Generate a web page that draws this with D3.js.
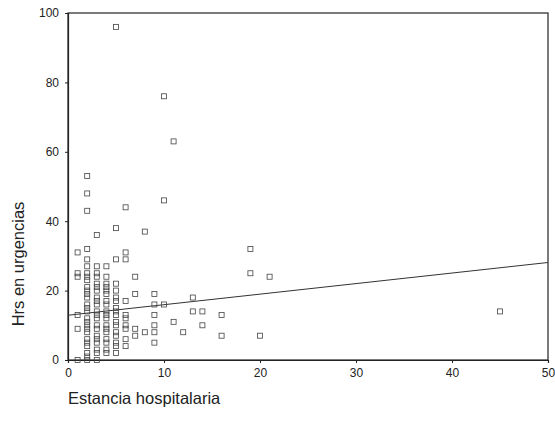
<!DOCTYPE html>
<meta charset="utf-8">
<script src="https://d3js.org/d3.v7.min.js"></script>
<style>
  body { margin: 0; background: #fff; }
  text { font-family: "Liberation Sans", Arial, sans-serif; fill: #222; }
</style>
<div id="chart"></div>
<script>

// data: stay (days) vs hours in ER
var estancia = [
  1, 1, 1, 1, 1, 1,
  2, 2, 2, 2, 2, 2, 2, 2, 2, 2, 2, 2, 2, 2, 2, 2, 2, 2, 2, 2, 2, 2, 2, 2, 2, 2, 2,
  3, 3, 3, 3, 3, 3, 3, 3, 3, 3, 3, 3, 3, 3, 3, 3, 3, 3, 3, 3, 3,
  4, 4, 4, 4, 4, 4, 4, 4, 4, 4, 4, 4, 4, 4, 4, 4, 4, 4,
  5, 5, 5, 5, 5, 5, 5, 5, 5, 5, 5, 5, 5, 5, 5, 5, 5,
  6, 6, 6, 6, 6, 6, 6, 6, 6, 6,
  7, 7, 7, 7,
  8, 8,
  9, 9, 9, 9, 9, 9,
  10, 10, 10,
  11, 11,
  12, 13, 13, 14, 14, 16, 16, 19, 19, 20, 21, 45
];
var horas = [
  0, 9, 13, 24, 25, 31,
  0, 1, 2, 4, 5, 6, 8, 9, 10, 11, 12, 14, 15, 16, 18, 19, 20, 21, 23, 24, 25, 27, 29, 32, 43, 48, 53,
  0, 2, 3, 5, 6, 7, 9, 10, 12, 13, 14, 16, 17, 18, 20, 21, 22, 24, 25, 27, 36,
  2, 3, 5, 6, 8, 9, 10, 12, 13, 14, 16, 17, 19, 20, 21, 22, 24, 27,
  2, 4, 5, 7, 8, 10, 11, 13, 14, 15, 17, 18, 20, 22, 29, 38, 96,
  4, 6, 9, 10, 12, 13, 17, 29, 31, 44,
  7, 9, 19, 24,
  8, 37,
  5, 8, 10, 13, 16, 19,
  16, 46, 76,
  11, 63,
  8, 14, 18, 10, 14, 7, 13, 25, 32, 7, 24, 14
];
// fitted line: hours = a + b * stay
var ajuste = { a: 12.9, b: 0.304 };

var xTicks = [0, 10, 20, 30, 40, 50];
var yTicks = [0, 20, 40, 60, 80, 100];

var margin = { top: 13, right: 7, bottom: 68, left: 68 },
    width = 555 - margin.left - margin.right,
    height = 428 - margin.top - margin.bottom;

var svg = d3.select("#chart")
    .append("svg")
    .attr("width", 555)
    .attr("height", 428)
    .append("g")
    .attr("transform", "translate(" + margin.left + "," + margin.top + ")");

var x = d3.scaleLinear().domain([0, 50]).range([0, width]);
var y = d3.scaleLinear().domain([0, 100]).range([height, 0]);

// frame
svg.append("rect")
    .attr("width", width)
    .attr("height", height)
    .attr("fill", "none")
    .attr("stroke", "#222")
    .attr("stroke-width", 1.2);

var xAxis = svg.append("g")
    .attr("transform", "translate(0," + height + ")")
    .call(d3.axisBottom(x).tickValues(xTicks).tickSize(3).tickPadding(5));
var yAxis = svg.append("g")
    .call(d3.axisLeft(y).tickValues(yTicks).tickSize(3).tickPadding(6));

[xAxis, yAxis].forEach(function (g) {
    g.select(".domain").attr("stroke", "#222").attr("stroke-width", 1.2);
    g.selectAll(".tick line").attr("stroke", "#222");
    g.selectAll(".tick text")
        .style("font-size", "12px")
        .style("font-family", "'Liberation Sans', Arial, sans-serif")
        .attr("fill", "#333");
});

// regression line
svg.append("line")
    .attr("x1", x(0))
    .attr("y1", y(ajuste.a))
    .attr("x2", x(50))
    .attr("y2", y(ajuste.a + ajuste.b * 50))
    .attr("stroke", "#333")
    .attr("stroke-width", 1);

// points
var s = 5;
svg.selectAll(".pt")
    .data(estancia)
    .enter()
    .append("rect")
    .attr("class", "pt")
    .attr("x", function (d) { return x(d) - s / 2; })
    .attr("y", function (d, i) { return y(horas[i]) - s / 2; })
    .attr("width", s)
    .attr("height", s)
    .attr("fill", "none")
    .attr("stroke", "#444")
    .attr("stroke-width", 0.8);

// axis titles
svg.append("text")
    .attr("x", 0)
    .attr("y", height + 44)
    .style("font-size", "16.5px")
    .text("Estancia hospitalaria");

svg.append("text")
    .attr("transform", "rotate(-90)")
    .attr("x", -251)
    .attr("y", -44)
    .attr("text-anchor", "middle")
    .style("font-size", "16.5px")
    .text("Hrs en urgencias");
</script>
